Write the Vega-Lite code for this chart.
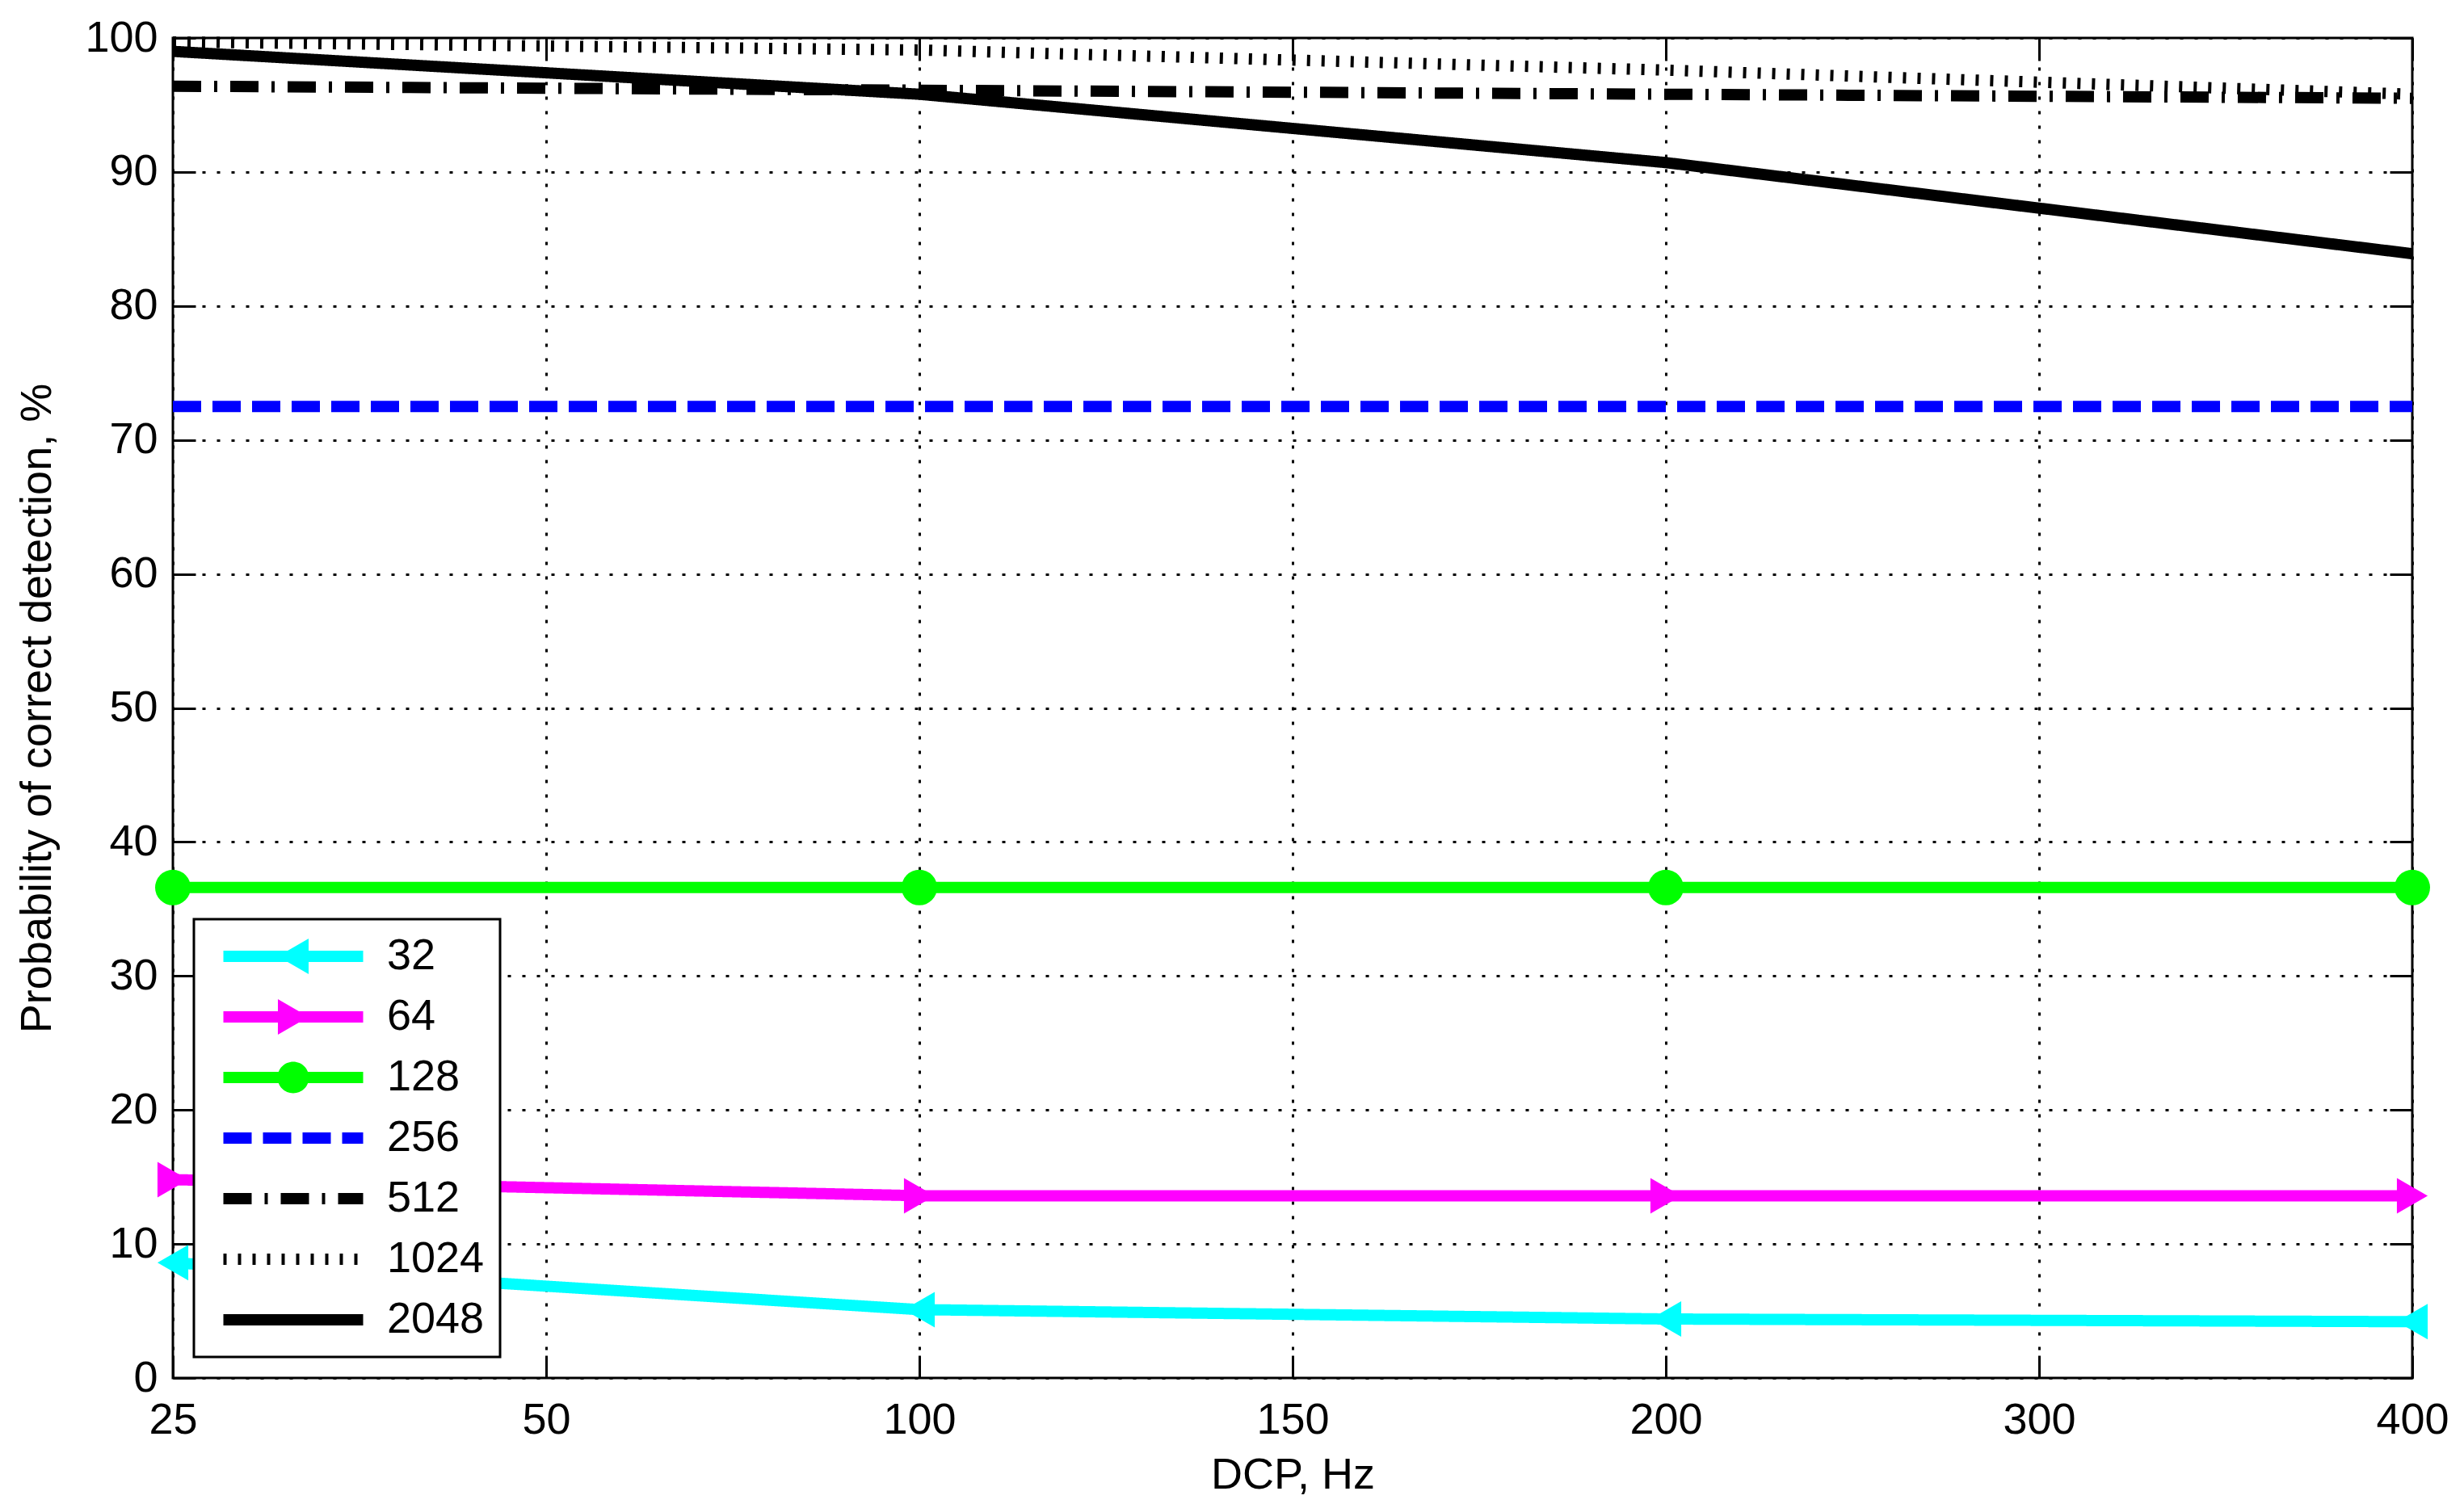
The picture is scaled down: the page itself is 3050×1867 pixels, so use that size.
{
  "$schema": "https://vega.github.io/schema/vega-lite/v6.json",
  "autosize": {"type": "none"},
  "width": 2772,
  "height": 1659,
  "padding": {"left": 214, "top": 47, "right": 64, "bottom": 161},
  "background": "white",
  "config": {
    "font": "Liberation Sans",
    "view": {"stroke": "black", "strokeWidth": 3},
    "axis": {
      "labelFont": "Liberation Sans",
      "titleFont": "Liberation Sans",
      "labelFontSize": 54,
      "titleFontSize": 54,
      "titleFontWeight": "normal",
      "labelColor": "black",
      "titleColor": "black",
      "domain": false,
      "tickColor": "black",
      "tickWidth": 3,
      "tickSize": -28,
      "gridColor": "black",
      "gridDash": [4, 14],
      "gridWidth": 3,
      "gridOpacity": 1
    }
  },
  "data": {
    "values": [
      {"n": "32", "dcp": 25, "p": 8.6},
      {"n": "32", "dcp": 100, "p": 5.1},
      {"n": "32", "dcp": 200, "p": 4.4},
      {"n": "32", "dcp": 400, "p": 4.2},
      {"n": "64", "dcp": 25, "p": 14.8},
      {"n": "64", "dcp": 100, "p": 13.6},
      {"n": "64", "dcp": 200, "p": 13.6},
      {"n": "64", "dcp": 400, "p": 13.6},
      {"n": "128", "dcp": 25, "p": 36.6},
      {"n": "128", "dcp": 100, "p": 36.6},
      {"n": "128", "dcp": 200, "p": 36.6},
      {"n": "128", "dcp": 400, "p": 36.6},
      {"n": "256", "dcp": 25, "p": 72.5},
      {"n": "256", "dcp": 100, "p": 72.5},
      {"n": "256", "dcp": 200, "p": 72.5},
      {"n": "256", "dcp": 400, "p": 72.5},
      {"n": "512", "dcp": 25, "p": 96.4},
      {"n": "512", "dcp": 100, "p": 96.1},
      {"n": "512", "dcp": 200, "p": 95.8},
      {"n": "512", "dcp": 400, "p": 95.5},
      {"n": "1024", "dcp": 25, "p": 99.7},
      {"n": "1024", "dcp": 100, "p": 99.1},
      {"n": "1024", "dcp": 200, "p": 97.6},
      {"n": "1024", "dcp": 400, "p": 95.8},
      {"n": "2048", "dcp": 25, "p": 99.0},
      {"n": "2048", "dcp": 100, "p": 95.8},
      {"n": "2048", "dcp": 200, "p": 90.7},
      {"n": "2048", "dcp": 400, "p": 83.9}
    ]
  },
  "resolve": {"axis": {"x": "independent", "y": "independent"}},
  "layer": [
    {
      "mark": {"type": "line", "strokeWidth": 14, "strokeCap": "butt"},
      "encoding": {
        "x": {
          "field": "dcp",
          "type": "ordinal",
          "scale": {"domain": [25, 50, 100, 150, 200, 300, 400], "padding": 0},
          "axis": {"labelAngle": 0, "grid": true, "title": "DCP, Hz", "labelPadding": 53, "titlePadding": 14}
        },
        "y": {
          "field": "p",
          "type": "quantitative",
          "scale": {"domain": [0, 100], "nice": false, "zero": false},
          "axis": {"values": [0, 10, 20, 30, 40, 50, 60, 70, 80, 90, 100], "grid": true, "title": "Probability of correct detection, %", "labelPadding": 47, "titlePadding": 31}
        },
        "color": {
          "field": "n",
          "type": "nominal",
          "scale": {
            "domain": ["32", "64", "128", "256", "512", "1024", "2048"],
            "range": ["#00FFFF", "#FF00FF", "#00FF00", "#0000FF", "#000000", "#000000", "#000000"]
          },
          "legend": {
            "title": null,
            "orient": "bottom-left",
            "offset": 26,
            "strokeColor": "black",
            "fillColor": "white",
            "padding": 19,
            "rowPadding": 21,
            "clipHeight": 54,
            "labelFont": "Liberation Sans",
            "labelFontSize": 54,
            "labelColor": "black",
            "symbolSize": 29929,
            "symbolOffset": 77,
            "labelOffset": 89,
            "encode": {
              "legend": {"update": {"strokeWidth": {"value": 3}}},
              "symbols": {
                "update": {
                  "shape": {"signal": "datum.value === '32' ? 'M-1,-0.081H1V0.081H-1Z M-0.22,0L0.22,-0.254L0.22,0.254Z' : datum.value === '64' ? 'M-1,-0.081H1V0.081H-1Z M0.22,0L-0.22,0.254L-0.22,-0.254Z' : datum.value === '128' ? 'M-1,-0.081H1V0.081H-1Z M-0.225,0A0.225,0.225 0 1,1 0.225,0A0.225,0.225 0 1,1 -0.225,0Z' : 'stroke'"},
                  "strokeWidth": {"signal": "indexof(['32','64','128'], datum.value) >= 0 ? 0 : 14"},
                  "fill": {"scale": "color", "field": "value"},
                  "fillOpacity": {"value": 1},
                  "opacity": {"value": 1}
                }
              }
            }
          }
        },
        "strokeDash": {
          "field": "n",
          "type": "nominal",
          "scale": {
            "domain": ["32", "64", "128", "256", "512", "1024", "2048"],
            "range": [[1, 0], [1, 0], [1, 0], [35, 14], [35, 16, 4, 16], [4, 14], [1, 0]]
          },
          "legend": {
            "title": null,
            "orient": "bottom-left",
            "offset": 26,
            "strokeColor": "black",
            "fillColor": "white",
            "padding": 19,
            "rowPadding": 21,
            "clipHeight": 54,
            "labelFont": "Liberation Sans",
            "labelFontSize": 54,
            "labelColor": "black",
            "symbolSize": 29929,
            "symbolOffset": 77,
            "labelOffset": 89
          }
        }
      }
    },
    {
      "transform": [{"filter": {"field": "n", "oneOf": ["32", "64", "128"]}}],
      "mark": {"type": "point", "filled": true, "opacity": 1, "strokeWidth": 0},
      "encoding": {
        "x": {
          "field": "dcp",
          "type": "ordinal",
          "scale": {"domain": [25, 50, 100, 150, 200, 300, 400], "padding": 0},
          "axis": {"orient": "top", "labels": false, "grid": false, "title": null}
        },
        "y": {
          "field": "p",
          "type": "quantitative",
          "scale": {"domain": [0, 100], "nice": false, "zero": false},
          "axis": {"orient": "right", "values": [0, 10, 20, 30, 40, 50, 60, 70, 80, 90, 100], "labels": false, "grid": false, "title": null}
        },
        "color": {
          "field": "n",
          "type": "nominal",
          "scale": {
            "domain": ["32", "64", "128", "256", "512", "1024", "2048"],
            "range": ["#00FFFF", "#FF00FF", "#00FF00", "#0000FF", "#000000", "#000000", "#000000"]
          }
        },
        "shape": {
          "field": "n",
          "type": "nominal",
          "scale": {"domain": ["32", "64", "128"], "range": ["triangle-left", "triangle-right", "circle"]},
          "legend": null
        },
        "size": {
          "field": "n",
          "type": "nominal",
          "scale": {"domain": ["32", "64", "128"], "range": [1936, 1936, 1521]},
          "legend": null
        }
      }
    }
  ]
}
